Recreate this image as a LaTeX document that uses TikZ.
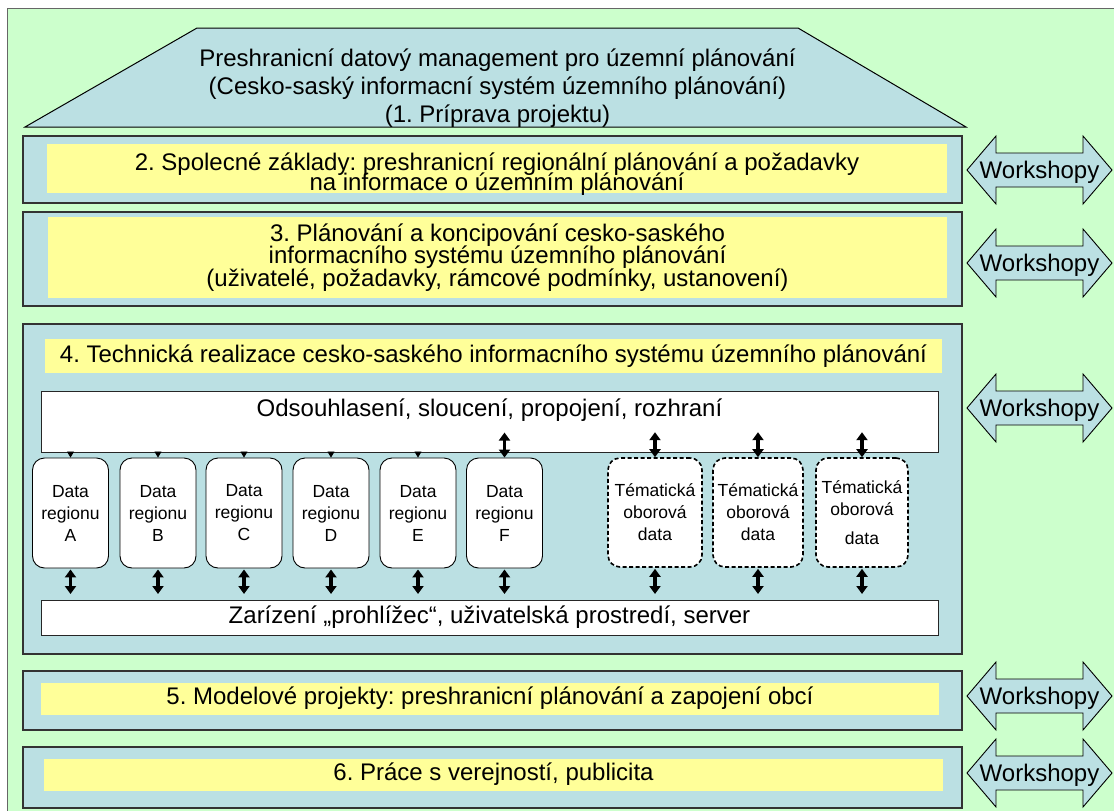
\documentclass[tikz,border=0pt]{standalone}
\usepackage{fontspec}
\setmainfont{Liberation Sans}
\usetikzlibrary{arrows.meta,calc}
\definecolor{bggreen}{HTML}{CCFFCC}
\definecolor{boxblue}{HTML}{BBE0E3}
\definecolor{boxyellow}{HTML}{FFFF99}
\frenchspacing
\begin{document}
\begin{tikzpicture}[x=1pt,y=-1pt,
  panel/.style={draw=black!80, line width=1.4pt, fill=boxblue},
  band/.style={fill=boxyellow},
  whitebox/.style={draw=black!85, line width=1pt, fill=white, inner sep=0pt, anchor=north west},
  bigtext/.style={font=\fontsize{24}{28}\selectfont, inner sep=0pt, align=center},
  datab/.style={draw=black, line width=0.9pt, fill=white, rounded corners=12pt,
    minimum width=76pt, minimum height=110pt, inner sep=0pt, align=center,
    font=\fontsize{17.5}{22}\selectfont},
  themb/.style={draw=black, line width=1.6pt, dash pattern=on 4pt off 2.5pt, fill=white,
    rounded corners=12pt, minimum height=109pt, inner sep=0pt, align=center,
    font=\fontsize{17.5}{22}\selectfont},
  smalltip/.style={line width=0.8pt, -{Triangle[width=7pt,length=6pt]}},
  dbl/.style={line width=3.2pt, {Triangle[width=11pt,length=8pt]}-{Triangle[width=11pt,length=8pt]}},
  wsarrow/.style={draw=black, line width=0.9pt, fill=boxblue},
  wstext/.style={font=\fontsize{24}{28}\selectfont, inner sep=0pt}
]
\useasboundingbox (0,0) rectangle (1114,811);
\fill[white] (0,0) rectangle (1114,811);
% background
\draw[draw=black!60, line width=1pt, fill=bggreen] (7,8) rectangle (1130,830);
% roof
\draw[draw=black, line width=1pt, fill=boxblue] (25,127) -- (197,28) -- (798,28) -- (966,127) -- cycle;
\node[bigtext] (roof) at (497.5,87.7) {Preshranicní datový management pro územní plánování\\(Cesko-saský informacní systém územního plánování)\\(1. Príprava projektu)};
% panel 2
\draw[panel] (23,136) rectangle (962,203);
\fill[band] (47,144) rectangle (947,193);
\node[bigtext, font={\fontsize{24}{19.5}\selectfont\lineskiplimit=-40pt}] (t2) at (497,174.3) {2. Spolecné základy: preshranicní regionální plánování a požadavky\\na informace o územním plánování};
% panel 3
\draw[panel] (23,212) rectangle (962,306);
\fill[band] (48,217) rectangle (947,298);
\node[bigtext, font={\fontsize{24}{22.5}\selectfont\lineskiplimit=-40pt}] (t3) at (497.5,257.5) {3. Plánování a koncipování cesko-saského\\informacního systému územního plánování\\(uživatelé, požadavky, rámcové podmínky, ustanovení)};
% panel 4
\draw[panel] (23,324) rectangle (962,654);
\fill[band] (45,339) rectangle (942,373);
\node[bigtext] (t4) at (493.5,356) {4. Technická realizace cesko-saského informacního systému územního plánování};
\node[whitebox, minimum width=897pt, minimum height=61pt] (odso) at (41,391) {};
\node[bigtext] (odsotext) at (489.5,410) {Odsouhlasení, sloucení, propojení, rozhraní};
\node[whitebox, minimum width=897pt, minimum height=35pt] (zar) at (41,600) {};
\node[bigtext] (zartext) at (489.5,617) {Zarízení „prohlížec“, uživatelská prostredí, server};
% data boxes
\node[datab] (dA) at (70.5,513) {Data\\regionu\\A};
\node[datab] (dB) at (158,513) {Data\\regionu\\B};
\node[datab] (dC) at (244,513) {Data\\regionu\\C};
\node[datab] (dD) at (331,513) {Data\\regionu\\D};
\node[datab] (dE) at (418,513) {Data\\regionu\\E};
\node[datab] (dF) at (504.5,513) {Data\\regionu\\F};
\node[themb, minimum width=94pt] (tA) at (655,512.5) {Tématická\\oborová\\data};
\node[themb, minimum width=90pt] (tB) at (758,512.5) {Tématická\\oborová\\data};
\node[themb, minimum width=92pt] (tC) at (862,512.5) {Tématická\\oborová\\[7pt]data};
% connectors
\foreach \n in {dA,dB,dC,dD,dE}
  \draw[smalltip] (\n.north |- odso.south) -- (\n.north);
\foreach \n in {dF,tA,tB,tC}
  \draw[dbl] ($(\n.north)+(0,-25)$) -- (\n.north);
\foreach \n in {dA,dB,dC,dD,dE,dF,tA,tB,tC}
  \draw[dbl] ($(\n.south)+(0,1)$) -- ($(\n.south |- zar.north)+(0,-6)$);
% panel 5
\draw[panel] (23,671) rectangle (962,730);
\fill[band] (41,683) rectangle (939,715);
\node[bigtext] (t5) at (490,698) {5. Modelové projekty: preshranicní plánování a zapojení obcí};
% panel 6
\draw[panel] (23,747) rectangle (962,808);
\fill[band] (44,759) rectangle (943,791);
\node[bigtext] (t6) at (493.5,774) {6. Práce s verejností, publicita};
% workshop arrows
\foreach \cy/\nm in {170/ws2,263/ws3,408/ws4,696/ws5,773/ws6}{
  \draw[wsarrow] (967,\cy) -- (996,\cy-34) -- (996,\cy-17) -- (1083,\cy-17) -- (1083,\cy-34)
    -- (1112,\cy) -- (1083,\cy+34) -- (1083,\cy+17) -- (996,\cy+17) -- (996,\cy+34) -- cycle;
  \node[wstext] (\nm) at (1039.5,\cy+2) {Workshopy};
}
\end{tikzpicture}
\end{document}
